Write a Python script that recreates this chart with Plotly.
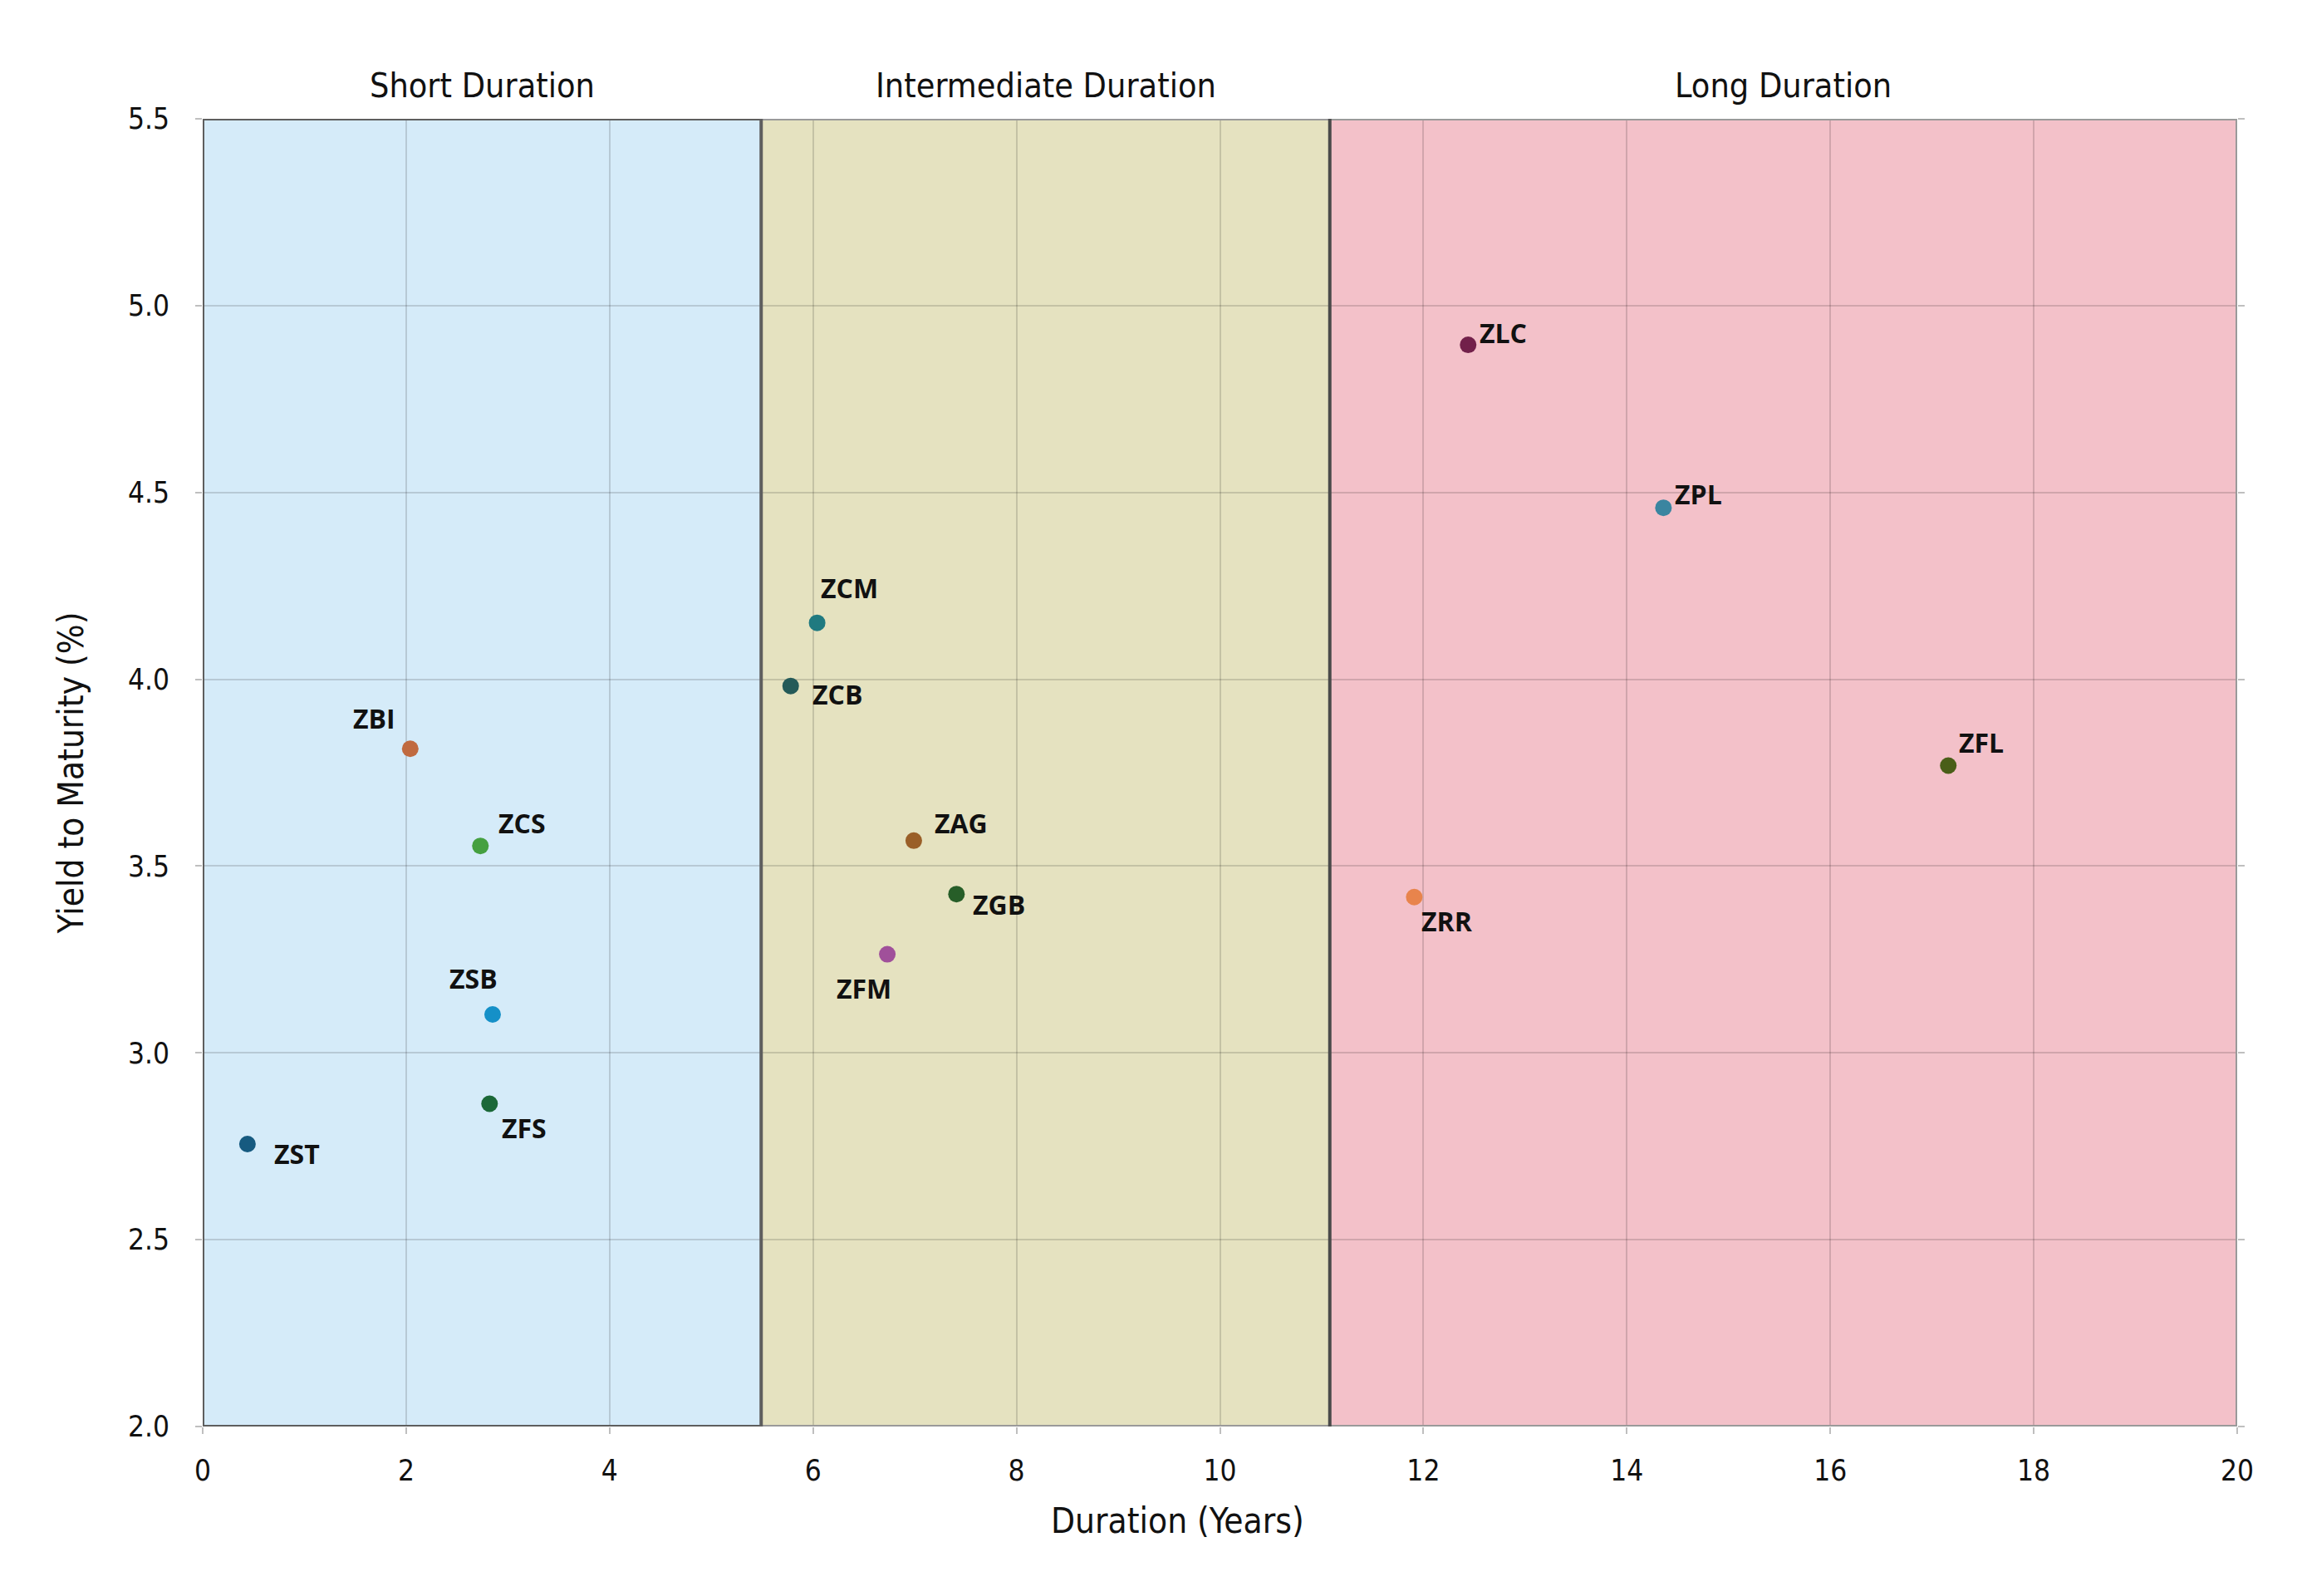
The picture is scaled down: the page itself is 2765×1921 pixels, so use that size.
import plotly.graph_objects as go

# fund tickers, duration (years) and yield to maturity (%)
tickers = ["ZST", "ZBI", "ZCS", "ZSB", "ZFS",
           "ZCM", "ZCB", "ZAG", "ZGB", "ZFM",
           "ZLC", "ZPL", "ZFL", "ZRR"]
duration = [0.44, 2.04, 2.73, 2.85, 2.82,
            6.04, 5.78, 6.99, 7.41, 6.73,
            12.44, 14.36, 17.16, 11.91]
ytm = [2.756, 3.814, 3.554, 3.103, 2.864,
       4.151, 3.982, 3.568, 3.425, 3.264,
       4.895, 4.459, 3.769, 3.417]

region_names = ["Short Duration", "Intermediate Duration", "Long Duration"]
region_edges = [0, 5.49, 11.08, 20]

x_ticks = [0, 2, 4, 6, 8, 10, 12, 14, 16, 18, 20]
y_ticks = [2.0, 2.5, 3.0, 3.5, 4.0, 4.5, 5.0, 5.5]

# styling
dot_colors = ["#165a80", "#c06a40", "#45a040", "#1590c8", "#1b6838",
              "#207a80", "#245a58", "#9a5f28", "#275e28", "#a0509a",
              "#72204a", "#3a85a0", "#4a5e18", "#e8844c"]
label_shift = [(60, -11), (-43, 37), (50, 28), (-23, 43), (42, -29),
               (39, 42), (56, -10), (57, 21), (51, -12), (-28, -41),
               (42, 15), (42, 17), (40, 28), (40, -29)]
region_fill = ["#d5ebf9", "#e5e2c0", "#f3c1c9"]

NARROW = "Liberation Sans Narrow, DejaVu Sans Condensed, sans-serif"
LABEL = "Open Sans, sans-serif"

fig = go.Figure()

fig.add_trace(go.Scatter(
    x=duration, y=ytm, mode="markers",
    marker=dict(size=20, color=dot_colors, line=dict(width=0)),
    text=tickers, hoverinfo="text+x+y", showlegend=False,
))

for i, name in enumerate(region_names):
    x0, x1 = region_edges[i], region_edges[i + 1]
    fig.add_shape(type="rect", xref="x", yref="y", x0=x0, x1=x1,
                  y0=y_ticks[0], y1=y_ticks[-1], fillcolor=region_fill[i],
                  line=dict(width=0), layer="below")
    fig.add_annotation(x=(x0 + x1) / 2, y=1, xref="x", yref="paper",
                       text=name, showarrow=False, yanchor="middle", yshift=40,
                       font=dict(family=NARROW, size=41, color="#111111", weight=500))

# outer frame, short-region frame and divider
fig.add_shape(type="rect", xref="x", yref="y", x0=region_edges[0], x1=region_edges[-1],
              y0=y_ticks[0], y1=y_ticks[-1], line=dict(color="#9a9a9a", width=4))
fig.add_shape(type="rect", xref="x", yref="y", x0=region_edges[0], x1=region_edges[1],
              y0=y_ticks[0], y1=y_ticks[-1], line=dict(color="#5e5e5e", width=4))
fig.add_shape(type="line", xref="x", yref="y", x0=region_edges[2], x1=region_edges[2],
              y0=y_ticks[0], y1=y_ticks[-1], line=dict(color="#4a4a4a", width=4))

for name, x, y, (dx, dy) in zip(tickers, duration, ytm, label_shift):
    fig.add_annotation(x=x, y=y, text=name, showarrow=False,
                       xshift=dx, yshift=dy,
                       font=dict(family=LABEL, size=32, color="#111111", weight=700))

fig.add_annotation(x=0.479, y=0, xref="paper", yref="paper", yanchor="middle",
                   yshift=-113, text="Duration (Years)", showarrow=False,
                   font=dict(family=NARROW, size=42, color="#111111", weight=500))

# the page body adds 8px around the figure, so the figure is 8px smaller
fig.update_layout(
    width=2757, height=1913,
    margin=dict(l=236, r=72, t=135, b=204),
    paper_bgcolor="white", plot_bgcolor="white",
    font=dict(family=NARROW, size=35, color="#111111"),
    xaxis=dict(range=[region_edges[0], region_edges[-1]], tickvals=x_ticks,
               showgrid=True, gridcolor="rgba(0,0,0,0.14)", gridwidth=2,
               zeroline=False, showline=False,
               ticks="outside", ticklen=8, tickcolor="rgba(0,0,0,0.25)", tickwidth=2,
               ticklabelstandoff=14),
    yaxis=dict(range=[y_ticks[0], y_ticks[-1]], tickvals=y_ticks, tickformat=".1f",
               showgrid=True, gridcolor="rgba(0,0,0,0.14)", gridwidth=2,
               zeroline=False, showline=False, mirror="ticks",
               ticks="outside", ticklen=8, tickcolor="rgba(0,0,0,0.25)", tickwidth=2,
               ticklabelstandoff=24,
               title=dict(text="Yield to Maturity (%)", standoff=40,
                          font=dict(family=NARROW, size=42, color="#111111", weight=500))),
)

fig.write_html("out.html")
